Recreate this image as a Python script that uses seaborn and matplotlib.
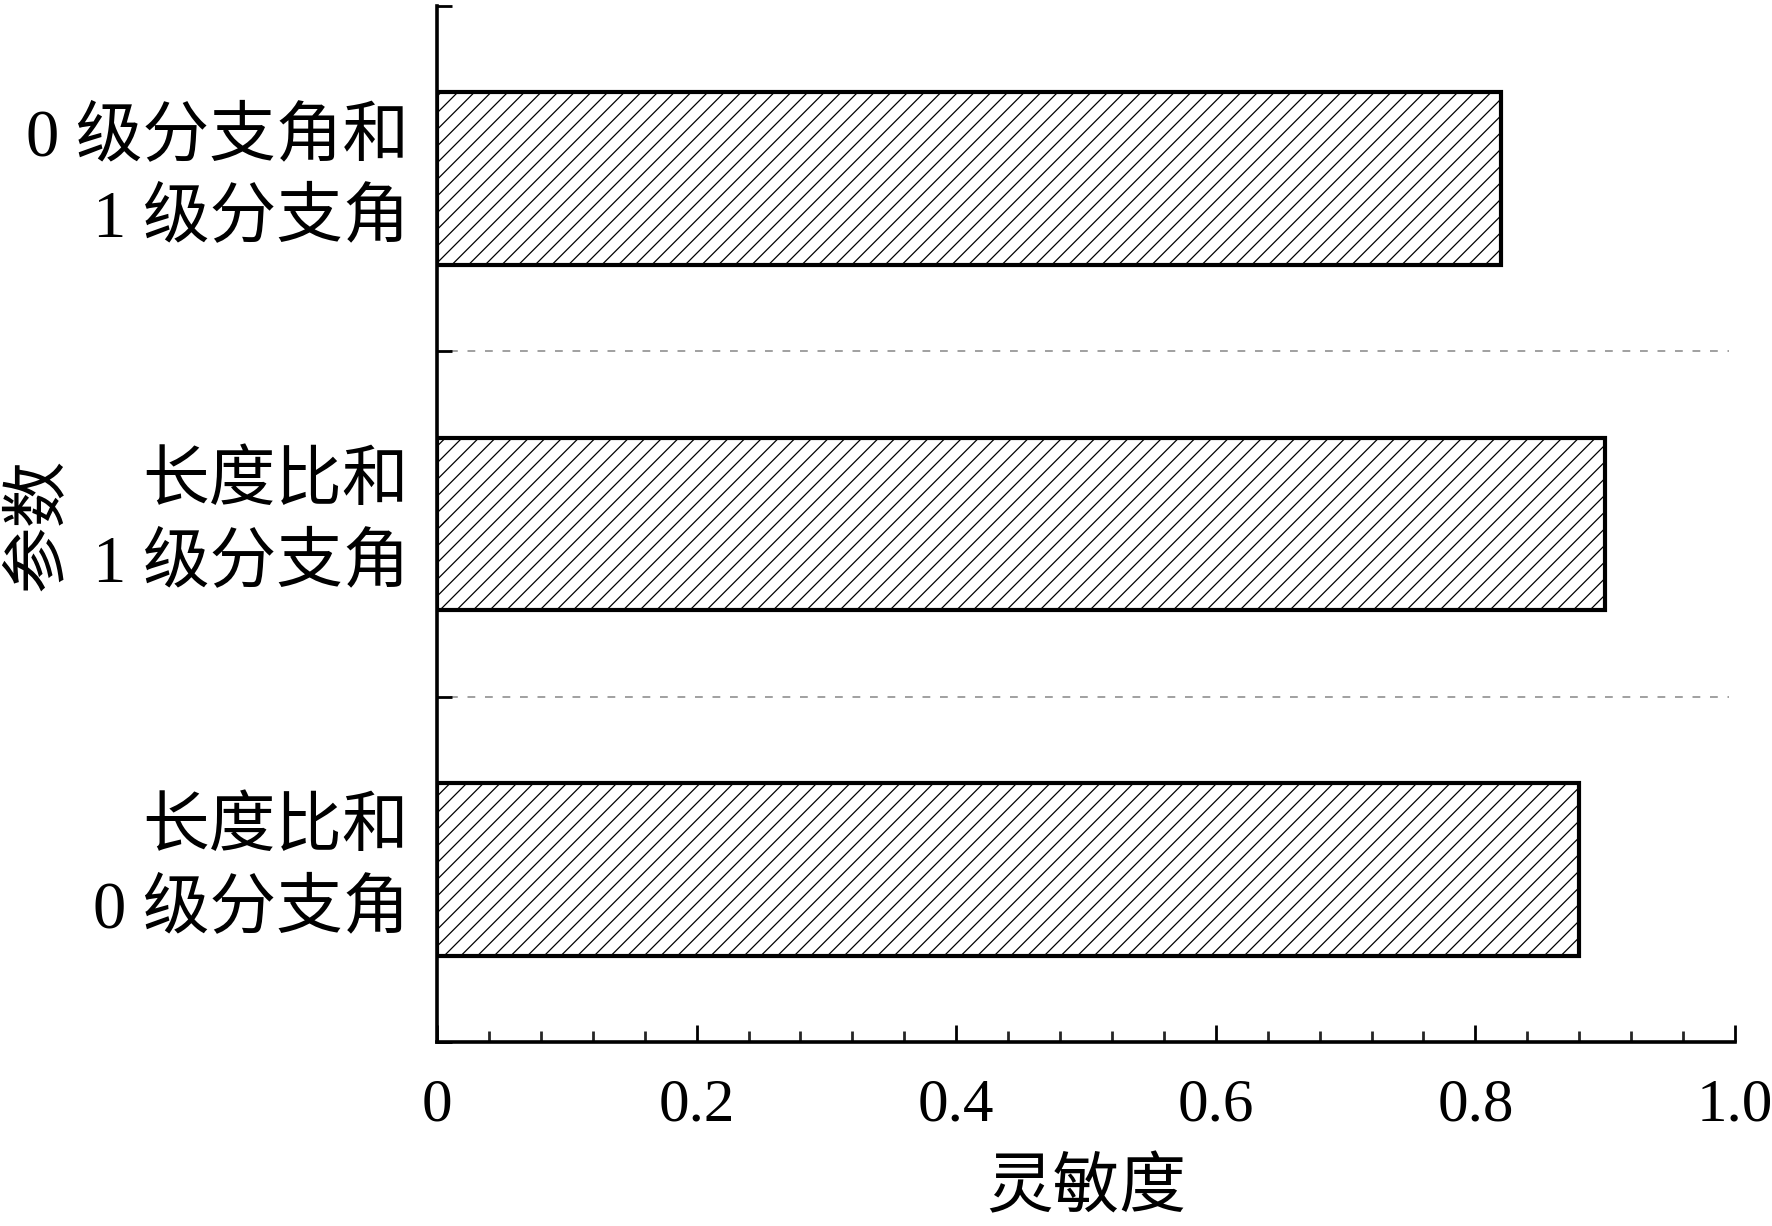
import matplotlib
matplotlib.use("Agg")
import matplotlib.pyplot as plt
from matplotlib.ticker import MultipleLocator, FixedLocator
import seaborn as sns
import pandas as pd

categories = ["0 级分支角和\n1 级分支角", "长度比和\n1 级分支角", "长度比和\n0 级分支角"]
sensitivity = [0.82, 0.90, 0.88]
xtick_values = [0, 0.2, 0.4, 0.6, 0.8, 1.0]
xtick_labels = ["0", "0.2", "0.4", "0.6", "0.8", "1.0"]
divider_positions = [0.5, 1.5]
xlabel_text = "灵敏度"
ylabel_text = "参数"

sns.set_theme(style="white")
plt.rcParams['font.family'] = ['Liberation Serif', 'Noto Sans CJK SC', 'DejaVu Sans']
plt.rcParams['hatch.linewidth'] = 0.9
plt.rcParams['axes.unicode_minus'] = False

df = pd.DataFrame({"param": categories, "value": sensitivity})

fig = plt.figure(figsize=(17.72, 12.26), dpi=100)
ax = fig.add_axes([437/1772, 1 - 1042/1226, (1735-437)/1772, (1042-6)/1226])

sns.barplot(data=df, x="value", y="param", orient="h", color="white",
            saturation=1, edgecolor="black", linewidth=3.0, width=0.5, ax=ax)
for p in ax.patches:
    p.set_hatch("//")
    p.set_facecolor("white")
    p.set_edgecolor("black")

ax.hlines(divider_positions, 0.01, 0.995, colors="#a0a0a0",
          linestyles=(0, (4, 5)), linewidth=1.4, zorder=0)

ax.set_xlim(0, 1.0)
ax.set_ylim(2.5, -0.5)

ax.set_xticks(xtick_values)
ax.set_xticklabels(xtick_labels)
ax.xaxis.set_minor_locator(MultipleLocator(0.04))
ax.yaxis.set_minor_locator(FixedLocator([-0.5, 0.5, 1.5, 2.5]))

for side in ["top", "right"]:
    ax.spines[side].set_visible(False)
for side in ["left", "bottom"]:
    ax.spines[side].set_linewidth(2.6)
    ax.spines[side].set_color("black")

ax.tick_params(axis="x", which="major", direction="in", length=12, width=2.0,
               labelsize=44, pad=26, colors="black", bottom=True)
ax.tick_params(axis="x", which="minor", direction="in", length=8, width=2.0,
               bottom=True)
ax.tick_params(axis="y", which="both", direction="in", length=11, width=2.0,
               labelsize=48, pad=20, colors="black", left=True)

for lab in ax.get_yticklabels():
    lab.set_linespacing(1.4)
    lab.set_verticalalignment("center")

ax.set_xlabel(xlabel_text, fontsize=48, labelpad=18, color="black")
ax.set_ylabel(ylabel_text, fontsize=48, color="black")
ax.yaxis.set_label_coords(-0.283, 0.5)

ax.grid(False)
fig.savefig("out.png", dpi=100, facecolor="white")
